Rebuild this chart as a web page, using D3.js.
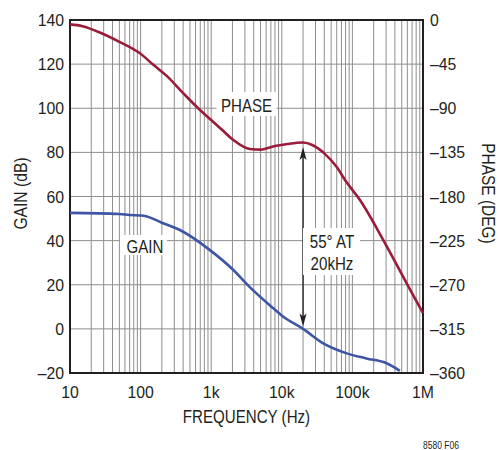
<!DOCTYPE html>
<html>
<head>
<meta charset="utf-8">
<script src="https://d3js.org/d3.v7.min.js"></script>
<style>
  body { margin: 0; background: #fff; }
  svg text { font-family: "Liberation Sans", Arial, sans-serif; fill: #231f20; }
</style>
</head>
<body>
<div id="chart"></div>
<script>
// data
var phaseFreq = [10, 15, 27, 50, 100, 150, 234, 400, 700, 1000, 1500, 2060, 3550, 5000, 6000, 8000, 12000, 20000, 27000, 40000, 60000, 80000, 128000, 274000, 587000, 1000000];
var phaseDeg  = [-4.5, -6.3, -13, -22.3, -34.5, -45.5, -57, -74.5, -92, -102, -113.5, -122.4, -131.6, -132.2, -131, -128.5, -126.5, -125, -127.5, -136, -150, -164, -183.6, -224.4, -268.5, -299];

var gainFreq = [10, 50, 70, 100, 115, 200, 360, 960, 2060, 3550, 7600, 10500, 20000, 38700, 83000, 158000, 306000, 470000];
var gainDb   = [52.6, 52.1, 51.6, 51.4, 51.2, 48.1, 44.8, 35.7, 26.7, 18.8, 9.3, 5.5, 0, -6.6, -11.1, -13.4, -15.6, -19];

var gainTicks  = [-20, 0, 20, 40, 60, 80, 100, 120, 140];
var phaseTicks = [0, -45, -90, -135, -180, -225, -270, -315, -360];
var freqTicks  = [10, 100, 1000, 10000, 100000, 1000000];
var freqLabels = ["10", "100", "1k", "10k", "100k", "1M"];

var margin = {top: 20, right: 75, bottom: 77, left: 70},
    width = 498 - margin.left - margin.right,
    height = 450 - margin.top - margin.bottom;

var svg = d3.select("#chart").append("svg")
    .attr("width", 498)
    .attr("height", 450)
  .append("g")
    .attr("transform", "translate(" + margin.left + "," + margin.top + ")");

var x = d3.scaleLog().domain([10, 1000000]).range([0, width]);
var yG = d3.scaleLinear().domain([-20, 140]).range([height, 0]);
var yP = d3.scaleLinear().domain([-360, 0]).range([height, 0]);

// condensed looking text: squeeze along the text direction
function txt(px, py, s, size, sx, anchor, rot) {
  return svg.append("text")
    .attr("transform", "translate(" + px + "," + py + ")" + (rot ? " rotate(" + rot + ")" : "") + " scale(" + sx + ",1)")
    .attr("text-anchor", anchor || "middle")
    .style("font-size", size + "px")
    .text(s);
}
function num(d) { return d < 0 ? "\u2013" + (-d) : "" + d; }

// minor + major vertical grid
var vgrid = [];
for (var dec = 10; dec < 1000000; dec *= 10) {
  for (var m = 1; m <= 9; m++) vgrid.push(dec * m);
}
svg.selectAll(".vgrid").data(vgrid.slice(1)).enter().append("line")
  .attr("x1", function(d) { return x(d); })
  .attr("x2", function(d) { return x(d); })
  .attr("y1", 0).attr("y2", height)
  .style("stroke", "#8e8e8e").style("stroke-width", 1);

svg.selectAll(".hgrid").data(gainTicks).enter().append("line")
  .attr("x1", 0).attr("x2", width)
  .attr("y1", function(d) { return yG(d); })
  .attr("y2", function(d) { return yG(d); })
  .style("stroke", "#8e8e8e").style("stroke-width", 1);

// frame
svg.append("rect")
  .attr("width", width).attr("height", height)
  .style("fill", "none").style("stroke", "#231f20").style("stroke-width", 2);

// curves
var lineP = d3.line()
  .x(function(d, i) { return x(phaseFreq[i]); })
  .y(function(d) { return yP(d); })
  .curve(d3.curveMonotoneX);
var lineG = d3.line()
  .x(function(d, i) { return x(gainFreq[i]); })
  .y(function(d) { return yG(d); })
  .curve(d3.curveMonotoneX);

svg.append("path").datum(gainDb).attr("d", lineG)
  .style("fill", "none").style("stroke", "#3d55a5").style("stroke-width", 2.6);
svg.append("path").datum(phaseDeg).attr("d", lineP)
  .style("fill", "none").style("stroke", "#9b1b3a").style("stroke-width", 2.6);

// phase margin arrow at 20kHz
var ax = x(20000), aTop = yP(-125) + 4.5, aBot = yG(0) - 2.5;
svg.append("line")
  .attr("x1", ax).attr("x2", ax).attr("y1", aTop + 6).attr("y2", aBot - 6)
  .style("stroke", "#231f20").style("stroke-width", 1.3);
svg.append("path")
  .attr("d", "M" + ax + "," + aTop + "L" + (ax - 3.5) + "," + (aTop + 13) + "L" + ax + "," + (aTop + 10) + "L" + (ax + 3.5) + "," + (aTop + 13) + "Z")
  .style("fill", "#231f20");
svg.append("path")
  .attr("d", "M" + ax + "," + aBot + "L" + (ax - 3.5) + "," + (aBot - 13) + "L" + ax + "," + (aBot - 10) + "L" + (ax + 3.5) + "," + (aBot - 13) + "Z")
  .style("fill", "#231f20");

// in-plot labels with white boxes
function boxLabel(lines, cx, baseY, bx, by, bw, bh) {
  svg.append("rect").attr("x", bx).attr("y", by).attr("width", bw).attr("height", bh).style("fill", "#fff");
  lines.forEach(function(t, i) {
    txt(cx, baseY + i * 22, t, 18, 0.84);
  });
}
boxLabel(["PHASE"], 176.5, 91.5, 146.5, 72, 60, 24);
boxLabel(["GAIN"], 75, 232.5, 50, 215, 47, 20);
boxLabel(["55\u00b0 AT", "20kHz"], 262, 228, 233, 208, 57, 47);

// tick labels
gainTicks.forEach(function(d) { txt(-6, yG(d) + 6, num(d), 17, 0.93, "end"); });
phaseTicks.forEach(function(d) { txt(width + 7, yP(d) + 6, num(d), 17, 0.93, "start"); });
freqTicks.forEach(function(d, i) { txt(x(d), height + 25, freqLabels[i], 17, 0.93, "middle"); });

// axis titles
txt(width / 2, height + 50, "FREQUENCY (Hz)", 18, 0.84);
txt(-43, height / 2 - 3, "GAIN (dB)", 18, 0.87, "middle", -90);
txt(width + 59, height / 2 - 3, "PHASE (DEG)", 18, 0.86, "middle", 90);

txt(width + 18, height + 76, "8580 F06", 10, 0.85);
</script>
</body>
</html>
